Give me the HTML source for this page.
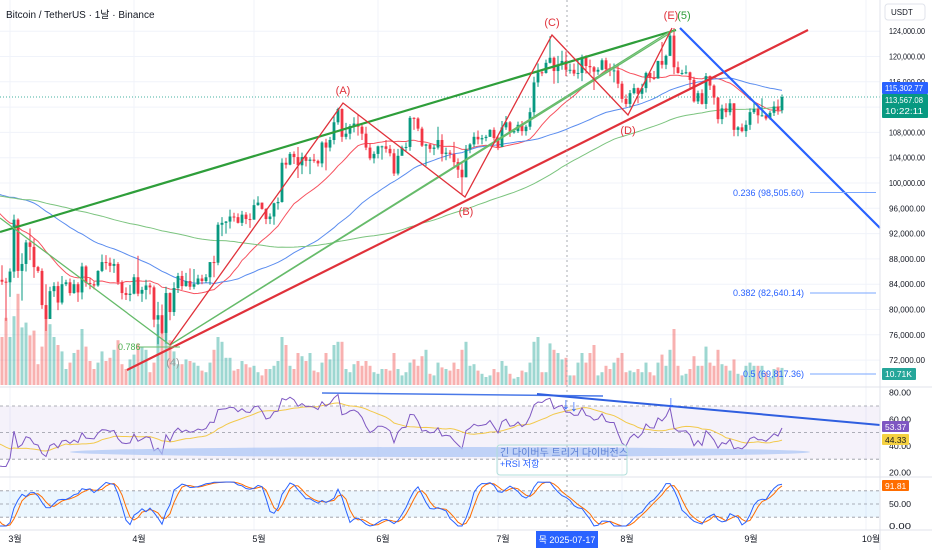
<!DOCTYPE html>
<html><head><meta charset="utf-8">
<style>
html,body{margin:0;padding:0;background:#fff;}
svg{display:block;font-family:"Liberation Sans","Noto Sans CJK KR",sans-serif;}
</style></head>
<body>
<svg id="chart" width="932" height="550" viewBox="0 0 932 550" xmlns="http://www.w3.org/2000/svg">
<rect x="0" y="0" width="932" height="550" fill="#ffffff"/>
<g id="grid"></g>
<g id="bands"></g>
<g id="vol"></g>
<g id="mas"></g>
<g id="candles"></g>
<g id="ind"></g>
<g id="draw">
  <line x1="0" y1="232" x2="676" y2="30" stroke="#2e9e3a" stroke-width="2.2"/>
  <line x1="127" y1="370" x2="808" y2="30" stroke="#e0313a" stroke-width="2.2"/>
  <line x1="680" y1="28" x2="880" y2="228" stroke="#2962ff" stroke-width="2.2"/>
  <polyline points="0,218 170,345 672,30" fill="none" stroke="#66bb6a" stroke-width="1.3"/>
  <polyline points="170,345 675,30" fill="none" stroke="#66bb6a" stroke-width="1.3"/>
  <polyline points="170,345 343,103 465,197 552,35 628,115 672,28" fill="none" stroke="#e0313a" stroke-width="1.3"/>
  <line x1="140" y1="347" x2="180" y2="347" stroke="#66bb6a" stroke-width="1"/>
  <text x="118" y="350" font-size="9" fill="#4caf50">0.786</text>
  <text x="173" y="366" font-size="11" fill="#999" text-anchor="middle">(4)</text>
  <text x="343" y="94" font-size="11" fill="#e0313a" text-anchor="middle">(A)</text>
  <text x="466" y="215" font-size="11" fill="#e0313a" text-anchor="middle">(B)</text>
  <text x="552" y="26" font-size="11" fill="#e0313a" text-anchor="middle">(C)</text>
  <text x="628" y="134" font-size="11" fill="#e0313a" text-anchor="middle">(D)</text>
  <text x="671" y="19" font-size="11" fill="#e0313a" text-anchor="middle">(E)</text>
  <text x="684" y="19" font-size="11" fill="#2e9e3a" text-anchor="middle">(5)</text>
  <line x1="810" y1="192.5" x2="876" y2="192.5" stroke="#7aa7ff" stroke-width="1"/>
  <text x="804" y="196" font-size="9" fill="#2962ff" text-anchor="end">0.236 (98,505.60)</text>
  <line x1="810" y1="293" x2="876" y2="293" stroke="#7aa7ff" stroke-width="1"/>
  <text x="804" y="296" font-size="9" fill="#2962ff" text-anchor="end">0.382 (82,640.14)</text>
  <line x1="810" y1="374" x2="876" y2="374" stroke="#7aa7ff" stroke-width="1"/>
  <text x="804" y="377" font-size="9" fill="#2962ff" text-anchor="end">0.5 (69,817.36)</text>
  <line x1="567" y1="0" x2="567" y2="530" stroke="#9598a1" stroke-width="0.8" stroke-dasharray="2,3"/>
  <ellipse cx="440" cy="452" rx="370" ry="5" fill="#a9c4f5" opacity="0.7"/>
  <line x1="322" y1="393" x2="603" y2="396" stroke="#4a79e8" stroke-width="1.5"/>
  <line x1="537" y1="394" x2="880" y2="425" stroke="#2f5fe0" stroke-width="2"/>
  <text x="566" y="409" font-size="16" font-weight="bold" fill="#2962ff" text-anchor="middle">↓</text>
  <text x="574" y="411" font-size="16" font-weight="bold" fill="#2962ff" text-anchor="middle">↓</text>
  <text x="671" y="407" font-size="16" font-weight="bold" fill="#2962ff" text-anchor="middle">↓</text>
  <rect x="497" y="445" width="130" height="30" rx="3" fill="none" stroke="#b2dfdb" stroke-width="1"/>
  <text x="500" y="456" font-size="10" fill="#5b7fd6">긴 다이버두 트리거 다이버전스</text>
  <text x="500" y="467" font-size="9" fill="#2962ff">+RSI 저항</text>
</g>
<g id="axes"></g>
<text x="6" y="18" font-size="10" fill="#131722">Bitcoin / TetherUS · 1날 · Binance</text>
</svg>
<script>
const prevCloses=[89.8,90.5,92.3,94.3,98.4,98.9,97.7,98.0,93.0,91.9,95.9,95.6,97.4,96.4,
97.2,95.8,96.0,98.8,97.0,99.9,99.9,101.2,97.4,96.6,101.1,100.0,101.4,101.4,104.5,106.1,106.1,100.2,97.5,97.8,97.3,95.2,94.9,98.7,99.4,95.8,94.2,95.3,93.7,92.8,93.6,
94.6,97.0,98.1,98.2,98.3,102.1,96.9,95.0,92.5,94.7,94.6,94.5,94.5,96.5,100.5,99.9,104.1,104.4,101.1,102.0,106.1,103.7,104.4,104.8,104.7,102.6,102.1,101.3,103.7,104.7,102.4,
100.6,97.7,101.4,97.9,96.6,96.6,96.5,96.6,96.5,97.4,95.8,97.9,96.6,97.5,97.6,96.1,95.8,95.5,96.6,98.3,96.1,96.5,96.2,91.6];
const closes=[88.7,84.7,84.4,84.3,
86.0,94.2,86.1,87.2,90.6,89.9,86.7,86.1,80.7,78.5,82.9,83.7,81.1,84.0,84.3,82.6,84.0,82.7,86.8,84.2,84.0,83.8,86.1,87.5,87.4,86.9,87.2,84.3,82.6,82.3,82.5,
85.1,82.5,83.1,83.8,83.5,78.4,79.1,76.3,82.6,79.6,83.4,85.3,83.7,84.5,83.6,84.0,84.9,84.5,85.1,87.5,87.4,93.4,93.7,93.9,94.7,94.6,93.7,95.0,94.3,94.2,
96.5,96.9,95.9,94.3,94.7,96.8,97.0,103.2,102.9,104.6,104.1,102.8,104.1,103.5,103.7,103.5,103.1,106.4,105.6,106.8,109.6,111.7,107.3,107.8,109.0,109.4,108.9,107.8,105.6,103.9,104.6,
105.8,105.8,105.4,104.7,101.5,104.3,105.6,105.7,110.3,110.2,108.6,105.9,106.1,105.4,105.6,106.8,104.6,104.8,104.6,103.3,102.1,100.9,105.3,106.1,107.3,106.9,107.1,107.3,108.4,107.1,
105.7,108.8,109.6,108.0,108.2,109.2,108.2,108.9,111.2,115.9,117.5,117.4,119.0,119.8,117.7,118.7,119.3,117.9,117.9,117.3,117.4,119.9,118.5,118.3,117.6,117.9,119.4,118.0,117.8,117.8,115.7,
113.3,112.5,114.2,115.0,114.1,115.0,117.4,116.6,116.5,119.3,118.7,120.1,123.3,118.3,117.4,117.4,117.5,116.3,112.9,114.2,112.5,116.9,115.4,113.5,110.1,111.8,111.2,112.6,108.4,108.8,108.2,
109.2,111.2,111.7,110.7,110.7,110.2,111.1,112.1,111.5,113.6];
const highs=[89.0,89.3,87.0,85.0,
86.5,95.0,94.4,88.9,91.0,92.8,91.2,86.9,86.5,84.0,83.6,84.3,84.4,85.3,84.7,84.9,84.7,84.3,87.4,87.0,85.0,84.4,86.2,88.7,88.6,88.2,88.0,87.5,84.6,83.5,83.9,
85.6,88.5,83.6,84.7,84.2,83.8,81.2,80.8,83.6,82.7,84.3,85.8,86.1,85.8,86.5,86.4,85.5,85.5,85.6,86.0,88.5,93.8,94.6,94.0,95.8,95.3,95.2,95.6,95.4,95.2,
97.4,97.9,96.9,96.0,95.2,96.9,97.7,103.9,104.0,104.9,105.0,105.7,104.8,104.5,104.1,104.6,103.7,106.6,107.0,107.3,110.7,111.9,111.8,109.5,109.3,110.4,110.8,109.2,108.9,106.3,105.0,
105.9,105.9,106.8,106.0,105.4,105.4,105.9,106.4,110.6,110.4,110.4,108.9,106.2,106.2,106.0,108.9,107.7,105.6,105.2,106.5,103.9,103.1,106.0,106.3,108.0,108.3,107.6,107.6,108.5,108.8,
107.5,109.8,110.6,109.8,108.6,109.7,109.8,109.2,111.9,116.8,118.9,118.0,119.5,123.2,120.0,120.1,120.9,120.8,118.9,118.9,119.7,120.3,120.2,119.5,118.5,118.3,119.7,119.8,118.9,118.9,118.9,
116.1,114.0,114.7,115.7,115.1,115.7,117.6,117.6,117.7,119.3,122.3,120.3,123.7,124.5,119.2,117.9,118.6,117.6,116.8,114.6,114.8,117.4,117.0,115.6,113.6,112.4,112.6,113.3,112.6,109.0,109.4,
109.9,111.8,112.6,112.1,113.4,111.0,111.4,112.9,113.2,114.0];
const lows=[86.1,82.3,83.9,78.2,
82.0,85.0,85.0,81.4,86.0,87.8,85.0,85.8,80.1,76.6,80.0,82.0,79.9,80.8,83.7,82.2,82.5,81.2,81.6,83.6,83.2,83.2,83.6,85.9,86.3,85.9,85.8,83.9,81.6,81.5,81.3,
82.4,82.1,81.2,81.6,82.4,77.2,74.5,76.1,74.6,78.3,79.0,82.6,83.1,83.6,83.1,83.2,83.9,84.0,84.2,83.9,85.1,87.0,91.6,92.0,92.8,93.9,93.6,93.2,93.5,92.9,
94.2,96.4,95.8,93.5,93.5,93.4,95.8,96.9,102.3,102.8,103.0,100.8,101.4,102.6,101.4,103.2,102.6,102.5,102.0,105.0,106.1,109.2,106.5,106.9,106.9,108.0,107.5,106.8,105.2,103.6,103.1,
103.9,103.7,104.8,104.2,101.1,101.2,104.6,104.9,105.1,108.4,108.2,105.7,102.7,104.8,104.4,105.3,103.4,103.6,103.9,102.3,100.8,98.2,100.9,104.7,105.7,106.1,106.1,106.6,107.3,106.7,
105.2,105.7,108.4,107.3,107.8,107.9,107.5,107.5,108.4,110.6,115.2,116.9,117.3,118.9,115.7,115.8,117.9,116.9,117.3,116.9,116.5,116.1,117.3,117.3,114.7,117.1,117.8,117.4,116.9,115.9,115.0,
112.7,112.0,111.9,114.0,112.6,113.3,114.3,115.9,116.3,116.6,118.1,118.0,120.1,117.2,117.3,117.1,117.2,114.7,112.7,112.5,112.4,111.7,114.7,112.4,109.4,109.3,110.4,110.7,107.4,107.4,108.0,
107.3,108.4,110.9,109.4,110.5,109.9,110.0,110.6,110.8,111.0];
const volumes=[38,46,30,42,
30,43,57,36,39,31,34,13,24,47,38,30,25,21,10,14,20,22,35,24,15,10,14,21,15,17,22,28,13,10,16,
19,26,24,22,8,14,38,33,44,28,21,13,13,16,15,14,12,9,8,14,22,30,27,17,17,9,10,15,13,11,
12,8,6,10,10,12,15,30,25,12,10,20,18,15,20,9,8,14,20,16,25,27,27,10,8,13,15,12,15,12,8,
7,10,10,9,20,10,6,8,14,16,12,18,22,7,6,14,11,10,9,14,10,22,27,12,13,9,7,5,6,10,
8,15,12,7,4,5,9,8,14,27,30,8,8,26,22,20,16,17,6,6,14,20,14,20,25,6,8,12,10,14,17,
20,8,9,8,10,8,14,8,6,14,19,12,22,35,12,6,7,10,18,12,12,24,14,12,22,13,12,9,16,7,6,
12,14,12,12,12,8,5,10,11,10.7];
const priceTicks=[124,120,116,112,108,104,100,96,92,88,84,80,76,72];
const monthIdx=[4,35,65,96,126,157,188,218];
const monthLabels=["3월","4월","5월","6월","7월","8월","9월","10월"];
const rsiTicks=[80,60,40,20];
const stochTicks=[50,0];

const NS="http://www.w3.org/2000/svg";
const N=closes.length;
const px=i=>782-(N-1-i)*4;
const py=p=>183+(100-p)*6.325;
const vy=v=>385-v*1.6;
const ry=v=>392.7+(80-v)*1.33;
const sy=v=>526-v*0.44;
function mk(parent,tag,attrs){const e=document.createElementNS(NS,tag);for(const k in attrs)e.setAttribute(k,attrs[k]);document.getElementById(parent).appendChild(e);return e;}

priceTicks.forEach(t=>{const l=mk('grid','line',{x1:0,x2:880,y1:py(t),y2:py(t),stroke:'#f0f3fa','stroke-width':1});

});
monthIdx.forEach(i=>{const l=mk('grid','line',{x1:px(i),x2:px(i),y1:0,y2:530,stroke:'#f0f3fa','stroke-width':1});

});

let b=mk('bands','rect',{x:0,y:ry(70),width:880,height:ry(30)-ry(70),fill:'#7e57c2','fill-opacity':0.08});


b=mk('bands','rect',{x:0,y:sy(80),width:880,height:sy(20)-sy(80),fill:'#2196f3','fill-opacity':0.09});


[[ry(70),'rsi-upper'],[ry(50),'rsi-mid'],[ry(30),'rsi-lower'],[sy(80),'stoch-upper'],[sy(50),'stoch-mid'],[sy(20),'stoch-lower']].forEach(([y,n])=>{
 const l=mk('bands','line',{x1:0,x2:880,y1:y,y2:y,stroke:'#9598a1','stroke-width':0.8,'stroke-dasharray':'3,3'});
 
 });
[387,477,530].forEach(y=>{const l=mk('bands','line',{x1:0,x2:932,y1:y,y2:y,stroke:'#e0e3eb','stroke-width':1});

});

for(let i=0;i<N;i++){
 const o=i===0?prevCloses[prevCloses.length-1]:closes[i-1], c=closes[i];
 const up=c>=o, col=up?'#089981':'#f23645', x=px(i);
 if(x<-4||x>884) continue;
 const v=mk('vol','rect',{x:x-1.5,y:vy(volumes[i]),width:3,height:385-vy(volumes[i]),fill:up?'#26a69a':'#ef5350','fill-opacity':0.45});
 
 
 const w=mk('candles','line',{x1:x,x2:x,y1:py(highs[i]),y2:py(lows[i]),stroke:col,'stroke-width':1});
 
 
 const top=py(Math.max(o,c)),bot=py(Math.min(o,c));
 const r=mk('candles','rect',{x:x-1.4,y:top,width:2.8,height:Math.max(1,bot-top),fill:col});
 
 
}
const all=prevCloses.concat(closes), P=prevCloses.length;
function ma(arr,n,k){let s=0,c=0;for(let j=Math.max(0,k-n+1);j<=k;j++){s+=arr[j];c++;}return s/c;}
[[20,'#f7525f','ma-20-line'],[50,'#5b8def','ma-50-line'],[100,'#7cc47f','ma-100-line']].forEach(([n,col,name])=>{
 let d='';for(let i=0;i<N;i++){d+=(i?'L':'M')+px(i).toFixed(1)+','+py(ma(all,n,P+i)).toFixed(1);}
 const p=mk('mas','path',{d:d,fill:'none',stroke:col,'stroke-width':1});
 
 
});
const cp=mk('mas','line',{x1:0,x2:880,y1:py(closes[N-1]),y2:py(closes[N-1]),stroke:'#089981','stroke-width':0.8,'stroke-dasharray':'1,2'});



const rsi=[];let ag=0,al=0;
for(let k=1;k<all.length;k++){const ch=all[k]-all[k-1],g=Math.max(ch,0),l=Math.max(-ch,0);
 if(k<=14){ag+=g/14;al+=l/14;}else{ag=(ag*13+g)/14;al=(al*13+l)/14;}
 rsi[k]=al===0?100:100-100/(1+ag/al);}
rsi[0]=50;
const rsiMa=k=>{let s=0;for(let j=k-13;j<=k;j++)s+=rsi[j];return s/14;};
const st=[];for(let k=30;k<all.length;k++){let mn=1e9,mx=-1e9;for(let j=k-13;j<=k;j++){mn=Math.min(mn,rsi[j]);mx=Math.max(mx,rsi[j]);}st[k]=mx>mn?(rsi[k]-mn)/(mx-mn)*100:50;}
const K=[],D=[];for(let k=33;k<all.length;k++){K[k]=(st[k]+st[k-1]+st[k-2])/3;}
for(let k=36;k<all.length;k++){D[k]=(K[k]+K[k-1]+K[k-2])/3;}
function line(fn,col,name,sw){let d='';for(let i=0;i<N;i++){d+=(i?'L':'M')+px(i).toFixed(1)+','+fn(P+i).toFixed(1);}
 const p=mk('ind','path',{d:d,fill:'none',stroke:col,'stroke-width':sw});
 
 }
line(k=>ry(rsiMa(k)),'#f2c94c','rsi-ma-line',1);
line(k=>ry(rsi[k]),'#7e57c2','rsi-line',1);
line(k=>sy(D[k]),'#ff6d00','stoch-d-line',1);
line(k=>sy(K[k]),'#2962ff','stoch-k-line',1);

function axText(x,y,txt,name,len,fill){const tx=mk('axes','text',{x:x,y:y,'font-size':8.5,fill:fill||'#131722'});tx.textContent=txt;
 if(len){tx.setAttribute('textLength',len);tx.setAttribute('lengthAdjust','spacingAndGlyphs');}
 
 return tx;}
priceTicks.forEach(t=>axText(889,py(t)+3,(t*1000).toLocaleString('en-US')+'.00','price-tick-label',36));
rsiTicks.forEach(t=>axText(889,ry(t)+3,t.toFixed(2),'rsi-tick-label',22));
stochTicks.forEach(t=>axText(889,sy(t)+3,t.toFixed(2),'stoch-tick-label',22));
monthIdx.forEach((i,j)=>{const tx=mk('axes','text',{x:px(i)+5,y:542,'font-size':9,fill:'#131722','text-anchor':'middle'});tx.textContent=monthLabels[j];
 
 });
const ax=mk('axes','line',{x1:880,x2:880,y1:0,y2:550,stroke:'#e0e3eb','stroke-width':1});


function tag(y,h,bg,txt,name,fg,w){const r=mk('axes','rect',{x:882,y:y,width:w||46,height:h,fill:bg,rx:1});
 
 
 txt.forEach((s,j)=>{axText(885,y+9+j*11,s,name,s.length>6?38:0,fg||'#fff');});}
tag(82,12,'#2962ff',['115,302.77'],'ma-price-tag');
tag(94,24,'#089981',['113,567.08','10:22:11'],'last-price-tag');
tag(368,12,'#26a69a',['10.71K'],'volume-tag','#fff',34);
tag(421,11,'#7e57c2',['53.37'],'rsi-value-tag','#fff',27);
tag(434,11,'#f5d142',['44.33'],'rsi-ma-tag','#131722',27);
tag(480,11,'#ff6d00',['91.81'],'stoch-value-tag','#fff',27);
const u=mk('axes','rect',{x:885,y:4,width:40,height:16,fill:'#fff',stroke:'#e0e3eb',rx:3});


const ut=mk('axes','text',{x:891,y:15,'font-size':8,fill:'#131722'});ut.textContent='USDT';


const dl=mk('axes','rect',{x:536,y:531,width:62,height:17,fill:'#2962ff'});


const dt=mk('axes','text',{x:567,y:543,'font-size':9,fill:'#fff','text-anchor':'middle'});dt.textContent='목 2025-07-17';


</script>
</body></html>
